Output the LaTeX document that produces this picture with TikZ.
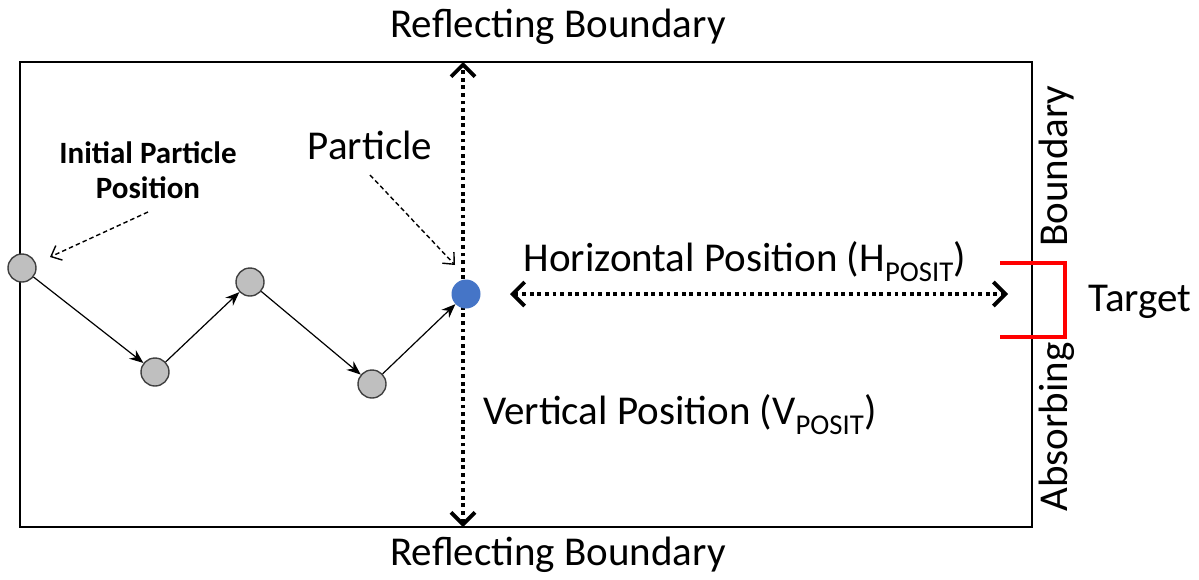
\documentclass[tikz,border=0pt]{standalone}
\usepackage{fontspec}
\setmainfont{Carlito}
\usetikzlibrary{arrows.meta,positioning}
\definecolor{GrainClr}{rgb}{0.75,0.75,0.75}
\definecolor{ParticleClr}{rgb}{0.27,0.46,0.78}
\definecolor{TargetClr}{rgb}{1,0,0}

\tikzset{
  grain/.style={circle,draw=black!75,fill=GrainClr,minimum size=28pt,inner sep=0pt,line width=1.4pt},
  walk/.style={-{Stealth[length=14pt,width=11pt]},line width=1.2pt},
  pointer/.style={dash pattern=on 4.5pt off 3pt,-{Straight Barb[length=9pt,width=16pt]},line width=1.4pt},
  posline/.style={line width=3.8pt,dash pattern=on 3.8pt off 3.8pt,
    {Straight Barb[length=12pt,width=24pt,line width=3.8pt]}-{Straight Barb[length=12pt,width=24pt,line width=3.8pt]}},
  bigtxt/.style={font=\fontsize{41}{48}\selectfont,inner sep=0pt},
}

\begin{document}
\begin{tikzpicture}[x=1pt,y=-1pt]
\useasboundingbox (0,0) rectangle (1199,579);

% box
\coordinate (NW) at (20,62);
\coordinate (SE) at (1032,527);
\draw[line width=1.4pt] (NW) rectangle (SE);

% positions
\coordinate (vtop) at (463,62);
\coordinate (vbot) at (463,527);
\draw[posline] (vbot) -- (vtop);

\coordinate (hleft) at (510,294);
\coordinate (hright) at (1008,294);
\draw[posline] (hleft) -- (hright);

% random walk
\node[grain] (g0) at (22,268) {};
\node[grain] (g1) at (155,372) {};
\node[grain] (g2) at (250,282) {};
\node[grain] (g3) at (372,384) {};
\node[circle,fill=ParticleClr,minimum size=29pt,inner sep=0pt] (p) at (466,294) {};

\draw[walk] (g0) -- (g1);
\draw[walk] (g1) -- (g2);
\draw[walk] (g2) -- (g3);
\draw[walk] (g3) -- (p);

% labels
\node[bigtxt] (reftop) at (558,27) {Reflecting Boundary};
\node[bigtxt] (refbot) at (558,555) {Reflecting Boundary};
\node[bigtxt] (hpos) at (745,262) {Horizontal Position (H\textsubscript{POSIT})};
\node[bigtxt] (vpos) at (680,415) {Vertical Position (V\textsubscript{POSIT})};
\node[bigtxt] (ptxt) at (370,145) {Particle};
\node[font=\bfseries\fontsize{31}{35}\selectfont,align=center,inner sep=0pt] (itxt) at (148,170) {Initial Particle\\Position};
\node[bigtxt,rotate=90] (bnd) at (1057,166) {Boundary};
\node[bigtxt,rotate=90] (abs) at (1057,427) {Absorbing};
\node[bigtxt] (tgt) at (1140,302) {Target};

\coordinate (ia) at (148,212);
\coordinate (ib) at (50,257);
\draw[pointer] (ia) -- (ib);
\coordinate (pa) at (370,175);
\coordinate (pb) at (455,265);
\draw[pointer] (pa) -- (pb);

% target
\coordinate (t1) at (1000,263);
\coordinate (t2) at (1065,263);
\coordinate (t3) at (1065,337);
\coordinate (t4) at (1000,337);
\draw[TargetClr,line width=3.5pt] (t1) -- (t2) -- (t3) -- (t4);

\end{tikzpicture}
\end{document}
